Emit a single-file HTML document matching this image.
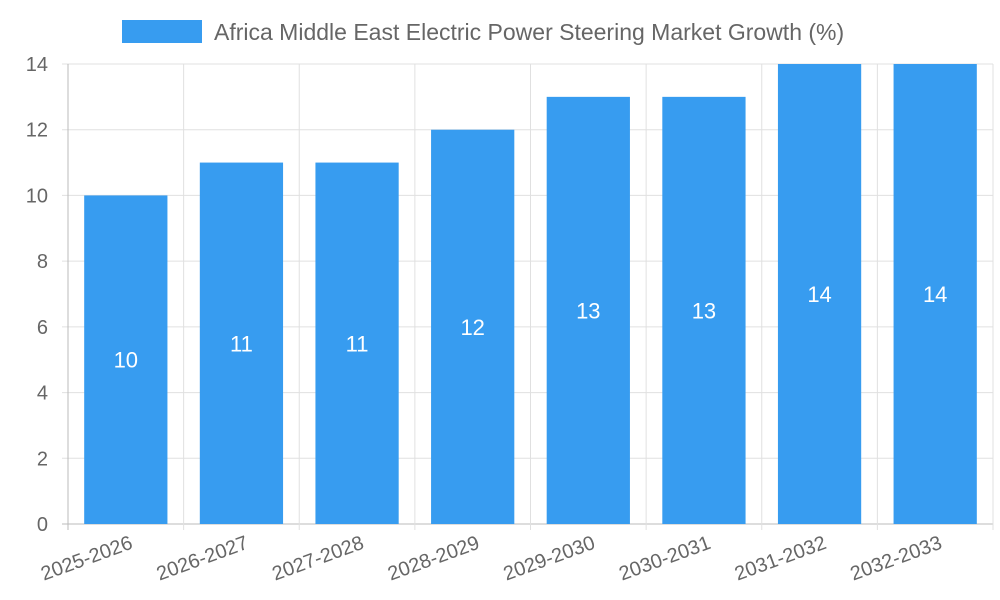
<!DOCTYPE html>
<html><head><meta charset="utf-8"><style>
html,body{margin:0;padding:0;background:#fff;}
svg{display:block;font-family:"Liberation Sans",sans-serif;}
</style></head><body>
<svg id="chart" width="1000" height="600">
<g id="legend">
<rect x="122" y="20" width="80" height="23" fill="#379cf0"></rect>
<text x="214" y="40" font-size="23" fill="#666">Africa Middle East Electric Power Steering Market Growth (%)</text>
</g>
<g id="grid"></g><g id="bars"></g><g id="axes"></g>
</svg>
<script>
const categories=["2025-2026","2026-2027","2027-2028","2028-2029","2029-2030","2030-2031","2031-2032","2032-2033"];
const values=[10,11,11,12,13,13,14,14];
const yTicks=[0,2,4,6,8,10,12,14];
const L=68,R=993,T=64,B=524,yMax=14;
const NS="http://www.w3.org/2000/svg";
const bw=(R-L)/categories.length;
const x=i=>L+i*bw;
const y=v=>B-(v/yMax)*(B-T);
function mk(tag,attrs,parent){const e=document.createElementNS(NS,tag);for(const k in attrs)e.setAttribute(k,attrs[k]);document.getElementById(parent).appendChild(e);return e;}
yTicks.forEach(t=>{
 const g=mk('line',{x1:L-6,x2:R,y1:y(t),y2:y(t),stroke:t===0?'#bbb':'#e0e0e0','stroke-width':1},'grid');
 
 
 const tx=mk('text',{x:L-20,y:y(t)+7,'font-size':20,fill:'#666','text-anchor':'end'},'axes');
 tx.textContent=t;
 
 
});
for(let i=0;i<=categories.length;i++){
 const g=mk('line',{x1:x(i),x2:x(i),y1:T,y2:B+6,stroke:i===0?'#bbb':'#e0e0e0','stroke-width':1},'grid');
 
 
}
categories.forEach((c,i)=>{
 const bx=x(i)+bw*0.14,w=bw*0.72;
 const r=mk('rect',{x:bx,y:y(values[i]),width:w,height:B-y(values[i]),fill:'#379cf0'},'bars');
 
 
 const v=mk('text',{x:x(i)+bw/2,y:(y(values[i])+B)/2+8,'font-size':22,fill:'#fff','text-anchor':'middle'},'bars');
 v.textContent=values[i];
 
 
 const cx=x(i)+bw/2+8,cy=B+24;
 const t=mk('text',{x:cx,y:cy,'font-size':20,fill:'#666','text-anchor':'end',transform:`rotate(-20 ${cx} ${cy})`},'axes');
 t.textContent=c;
 
 
});
</script>
</body></html>
